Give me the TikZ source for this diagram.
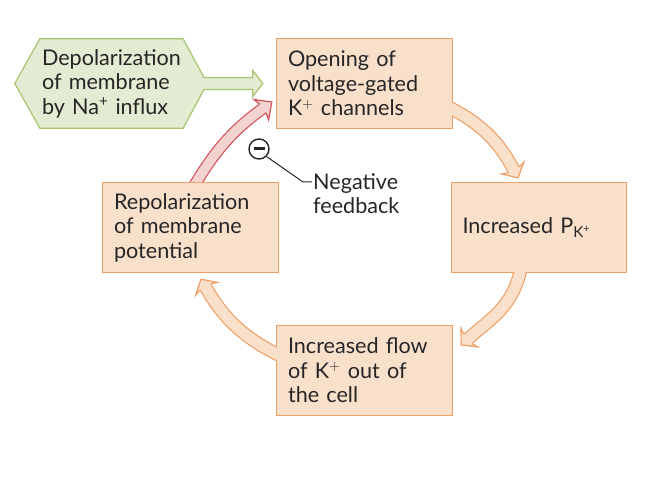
\documentclass[tikz,border=0pt]{standalone}
\usepackage{fontspec}
\setmainfont{Lato}
\usetikzlibrary{calc}
\pgfdeclarelayer{paper}\pgfdeclarelayer{bg}\pgfdeclarelayer{arr}\pgfdeclarelayer{cover}
\pgfsetlayers{paper,bg,arr,cover,main}
\definecolor{bxfill}{HTML}{F9E0CB}
\definecolor{bxline}{HTML}{EF9F65}
\definecolor{gfill}{HTML}{E4EBD3}
\definecolor{gline}{HTML}{A8C46E}
\definecolor{rfill}{HTML}{F3D3CF}
\definecolor{rline}{HTML}{D24E57}
\definecolor{txt}{HTML}{262626}
\begin{document}
\begin{tikzpicture}[x=1pt,y=1pt,
  mainfont/.style={font=\fontsize{21.6}{24.5}\selectfont, text=txt},
  txtbox/.style={mainfont, draw=none, fill=none, minimum width=175pt, minimum height=89pt,
     inner xsep=11pt, inner ysep=0pt, text width=153pt, align=left},
  boxrect/.style={fill=bxfill, draw=bxline, line width=1.2pt},
  oshaft/.style={draw=bxline, double=bxfill, line width=1.2pt, double distance=11pt, shorten >=8.5pt},
  rshaft/.style={draw=rline, double=rfill, line width=1.2pt, double distance=9.6pt, shorten >=10.5pt},
  ohead/.pic={
    \fill[bxfill] (-9,6.1) -- (-11,12.5) -- (0,0) -- (-11,-12.5) -- (-9,-6.1) -- cycle;
    \draw[bxline, line width=1.2pt] (-9,6.1) -- (-11,12.5) -- (0,0) -- (-11,-12.5) -- (-9,-6.1);
  },
  rhead/.pic={
    \fill[rfill] (-11,5.4) -- (-13,12.5) -- (0,0) -- (-13,-12.5) -- (-11,-5.4) -- cycle;
    \draw[rline, line width=1.2pt] (-11,5.4) -- (-13,12.5) -- (0,0) -- (-13,-12.5) -- (-11,-5.4);
  },
  gpoly/.style={fill=gfill, draw=gline, line width=1.2pt}
]
\useasboundingbox (0,0) rectangle (654,482);
\begin{pgfonlayer}{paper}
  \fill[white] (0,0) rectangle (654,482);
\end{pgfonlayer}

% text nodes
\node[mainfont, draw=none, minimum width=143pt, minimum height=89pt, inner xsep=2pt, inner ysep=0pt,
      text width=139pt, align=left] (dep) at (111.5,398.5)
  {Depolarization\\of membrane\\by Na\textsuperscript{+} influx};
\node[txtbox] (open) at (364.5,398.5) {Opening of\\voltage-gated\\K$^{+}$ channels};
\node[txtbox] (pk) at (539,254.5) {Increased P\textsubscript{K\textsuperscript{+}}};
\node[txtbox] (flow) at (364.5,111.5) {Increased flow\\of K$^{+}$ out of\\the cell};
\node[txtbox] (repol) at (190.5,254.5) {Repolarization\\of membrane\\potential};
\node[mainfont, anchor=north west, inner sep=0pt, align=left] (neg) at (313,309) {Negative\\feedback};

% connector coordinates
\coordinate (t1) at ($(pk.north)+(-21,5)$);
\coordinate (t2) at ($(flow.east)+(9,25.5)$);
\coordinate (t3) at ($(repol.south)+(10.5,-7)$);
\coordinate (t4) at ($(open.west)+(-5,-18.5)$);

\begin{pgfonlayer}{bg}
  % negative feedback arrow (under the box border)
  \draw[rshaft] ($(repol.north)+(1.4,-6.9)$) -- ($(repol.north)+(5.5,0)$) to[out=59,in=-144] (t4);
  \pic[rotate=36] at (t4) {rhead};
  % hexagon with its arrow
  \draw[gpoly] (dep.north west) -- (dep.north east) -- ($(dep.east)+(20.8,6)$)
     -- ($(open.west)+(-24,6)$) -- ($(open.west)+(-24,13)$) -- ($(open.west)+(-14,0)$)
     -- ($(open.west)+(-24,-13)$) -- ($(open.west)+(-24,-6)$) -- ($(dep.east)+(20.8,-6)$)
     -- (dep.south east) -- (dep.south west) -- ($(dep.west)+(-25,0)$) -- cycle;
  % boxes
  \foreach \b in {open,pk,flow,repol}
    \draw[boxrect] (\b.south west) rectangle (\b.north east);
\end{pgfonlayer}

\begin{pgfonlayer}{arr}
  \draw[oshaft] ($(open.east)+(-7.1,-21.7)$) -- ($(open.east)+(0,-25.5)$) to[out=-28,in=118] (t1);
  \pic[rotate=-62] at (t1) {ohead};
  \draw[oshaft] ($(pk.south)+(-17.2,7.8)$) -- ($(pk.south)+(-19,0)$) to[out=-103,in=42] (t2);
  \pic[rotate=-138] at (t2) {ohead};
  \draw[oshaft] ($(flow.west)+(7.1,12.9)$) -- ($(flow.west)+(0,16.5)$) to[out=153,in=-60] (t3);
  \pic[rotate=120] at (t3) {ohead};
\end{pgfonlayer}

\begin{pgfonlayer}{cover}
  \foreach \b in {open,pk,flow}
    \fill[bxfill] ($(\b.south west)+(0.6,0.6)$) rectangle ($(\b.north east)+(-0.6,-0.6)$);
\end{pgfonlayer}

% negative feedback sign
\node[circle, draw=txt, line width=1.4pt, minimum size=20pt, inner sep=0pt] (minus) at (259,333) {};
\draw[txt, line width=3pt] ($(minus.center)+(-5.5,0)$) -- ($(minus.center)+(5.5,0)$);
\coordinate (bend) at (303,300);
\draw[txt, line width=1pt] (minus.-45) -- (bend) -- ($(neg.north west)+(-1,-9)$);
\end{tikzpicture}
\end{document}
